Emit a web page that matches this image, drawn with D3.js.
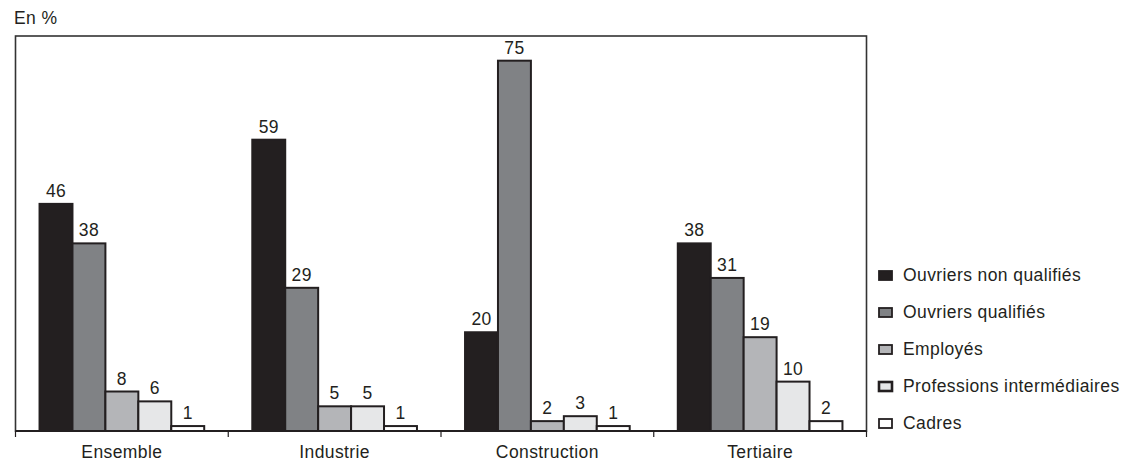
<!DOCTYPE html>
<html lang="fr">
<head>
<meta charset="utf-8">
<script src="https://cdn.jsdelivr.net/npm/d3@7"></script>
<style>
  html, body { margin: 0; padding: 0; background: #fff; }
  svg { display: block; }
  text { font-family: "Liberation Sans", Arial, Helvetica, sans-serif; fill: #231f20; }
</style>
</head>
<body>
<svg id="chart" width="1145" height="464"></svg>
<script>
// Secteurs d'activité (groupes de barres)
const categories = ["Ensemble", "Industrie", "Construction", "Tertiaire"];

// Catégories socioprofessionnelles (séries)
const seriesNames = [
  "Ouvriers non qualifiés",
  "Ouvriers qualifiés",
  "Employés",
  "Professions intermédiaires",
  "Cadres"
];

// Parts en %, une liste par série, dans l'ordre des secteurs
const ouvriersNonQualifies = [46, 59, 20, 38];
const ouvriersQualifies    = [38, 29, 75, 31];
const employes             = [8, 5, 2, 19];
const professionsInter     = [6, 5, 3, 10];
const cadres               = [1, 1, 1, 2];

const seriesValues = [ouvriersNonQualifies, ouvriersQualifies, employes, professionsInter, cadres];
const seriesColors = ["#231f20", "#808285", "#b4b5b8", "#e6e7e8", "#ffffff"];

const unitLabel = "En %";
const yMax = 80;

const svg = d3.select("#chart");
const frame = { left: 15.5, right: 866.5, top: 36, bottom: 431 };
const ink = "#231f20";
const fontSize = 17.5;
const spacing = 0.4;

// Échelles
const x0 = d3.scaleBand()
  .domain(categories)
  .range([frame.left, frame.right])
  .paddingInner(0)
  .paddingOuter(0);

const x1 = d3.scaleBand()
  .domain(seriesNames)
  .range([0, x0.bandwidth()])
  .paddingOuter(0.73)
  .paddingInner(0);

const y = d3.scaleLinear()
  .domain([0, yMax])
  .range([frame.bottom, frame.top]);

// Table longue pour le dessin
const rows = [];
categories.forEach((c, ci) => {
  seriesNames.forEach((s, si) => {
    rows.push({ category: c, series: s, si, value: seriesValues[si][ci] });
  });
});

// Cadre du graphique
svg.append("rect")
  .attr("x", frame.left)
  .attr("y", frame.top)
  .attr("width", frame.right - frame.left)
  .attr("height", frame.bottom - frame.top)
  .attr("fill", "none")
  .attr("stroke", "#333")
  .attr("stroke-width", 1.6);

// Barres
svg.append("g")
  .selectAll("rect")
  .data(rows)
  .join("rect")
  .attr("x", d => x0(d.category) + x1(d.series))
  .attr("y", d => y(d.value))
  .attr("width", x1.bandwidth())
  .attr("height", d => y(0) - y(d.value))
  .attr("fill", d => seriesColors[d.si])
  .attr("stroke", ink)
  .attr("stroke-width", 2);

// Valeurs au-dessus des barres
svg.append("g")
  .selectAll("text")
  .data(rows)
  .join("text")
  .attr("x", d => x0(d.category) + x1(d.series) + x1.bandwidth() / 2)
  .attr("y", d => y(d.value) - 7)
  .attr("text-anchor", "middle")
  .attr("font-size", fontSize)
  .attr("letter-spacing", spacing)
  .text(d => d.value);

// Axe des abscisses : ligne de base, graduations aux limites des groupes, libellés centrés
const axis = svg.append("g");
axis.append("line")
  .attr("x1", frame.left).attr("x2", frame.right)
  .attr("y1", frame.bottom).attr("y2", frame.bottom)
  .attr("stroke", ink).attr("stroke-width", 2);

const tickPositions = categories.map(c => x0(c)).concat([x0.range()[1]]);
axis.selectAll("line.tick")
  .data(tickPositions)
  .join("line")
  .attr("class", "tick")
  .attr("x1", d => d).attr("x2", d => d)
  .attr("y1", frame.bottom).attr("y2", frame.bottom + 6)
  .attr("stroke", ink).attr("stroke-width", 1.2);

axis.selectAll("text")
  .data(categories)
  .join("text")
  .attr("x", d => x0(d) + x0.bandwidth() / 2)
  .attr("y", frame.bottom + 27)
  .attr("text-anchor", "middle")
  .attr("font-size", fontSize)
  .attr("letter-spacing", spacing)
  .text(d => d);

// Unité
svg.append("text")
  .attr("x", 14)
  .attr("y", 24)
  .attr("font-size", fontSize)
  .attr("letter-spacing", spacing)
  .text(unitLabel);

// Légende
const legendY = d3.scalePoint()
  .domain(seriesNames)
  .range([281, 429]);

const legend = svg.append("g")
  .selectAll("g")
  .data(seriesNames)
  .join("g")
  .attr("transform", d => `translate(879,${legendY(d)})`);

legend.append("rect")
  .attr("x", 0)
  .attr("y", -10)
  .attr("width", 13)
  .attr("height", 9)
  .attr("fill", (d, i) => seriesColors[i])
  .attr("stroke", ink)
  .attr("stroke-width", (d, i) => i === 3 ? 2.6 : 1.8);

legend.append("text")
  .attr("x", 24)
  .attr("y", 0)
  .attr("font-size", fontSize)
  .attr("letter-spacing", spacing)
  .text(d => d);
</script>
</body>
</html>
